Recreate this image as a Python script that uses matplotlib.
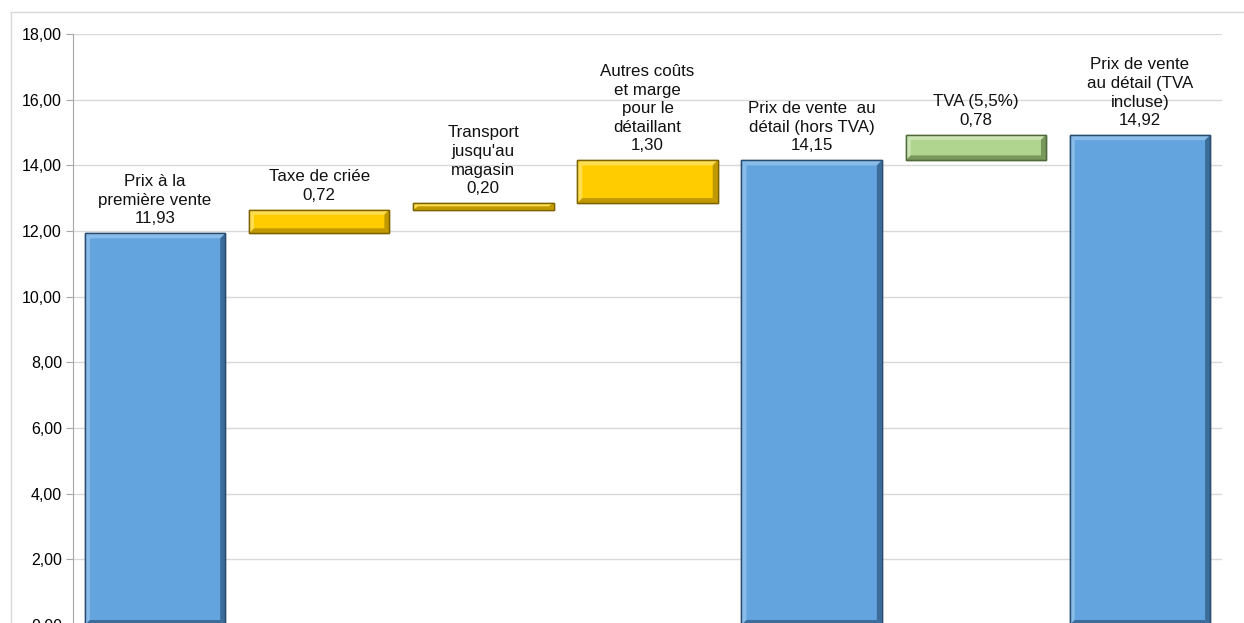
import matplotlib
matplotlib.use("Agg")
import matplotlib.pyplot as plt
from matplotlib.patches import Polygon
from matplotlib.transforms import IdentityTransform
from matplotlib.lines import Line2D

plt.rcParams['font.family'] = ['Liberation Sans', 'DejaVu Sans']

# Décomposition du prix (euros/kg)
etapes = ["Prix à la\npremière vente", "Taxe de criée", "Transport\njusqu'au\nmagasin",
          "Autres coûts\net marge\npour le\ndétaillant", "Prix de vente  au\ndétail (hors TVA)",
          "TVA (5,5%)", "Prix de vente\nau détail (TVA\nincluse)"]
valeurs = [11.93, 0.72, 0.20, 1.30, 14.15, 0.78, 14.92]
bases = [0, 11.93, 12.65, 12.85, 0, 14.15, 0]
types = ["total", "cout", "cout", "cout", "total", "tva", "total"]

palette = {
    "total": dict(fill="#63a4de", light="#92c1ec", dark="#34638f", edge="#294d70"),
    "cout": dict(fill="#ffcc00", light="#ffe260", dark="#b58f00", edge="#7d6300"),
    "tva": dict(fill="#b0d58e", light="#d2e8bd", dark="#6d8c52", edge="#4f6a3a"),
}

fig = plt.figure(figsize=(12.44, 6.23), dpi=100)
ax = fig.add_axes([73 / 1244, -2 / 623, (1222 - 73) / 1244, (625 - 34) / 623])

x = list(range(len(valeurs)))
bars = ax.bar(x, valeurs, bottom=bases, width=0.855,
              color=[palette[t]["fill"] for t in types],
              edgecolor=[palette[t]["edge"] for t in types], linewidth=1, zorder=3)

ax.set_xlim(-0.5, len(valeurs) - 0.5)
ax.set_ylim(0, 18)
ax.set_yticks([i * 2 for i in range(10)])
ax.set_yticklabels([f"{i * 2:.2f}".replace(".", ",") for i in range(10)], fontsize=11.5)
ax.set_xticks([])
ax.tick_params(axis="y", direction="out", length=5, color="#a6a6a6", pad=3)
ax.yaxis.grid(True, color="#d9d9d9", linewidth=1, zorder=0)
for s in ["top", "right", "bottom"]:
    ax.spines[s].set_visible(False)
ax.spines["left"].set_color("#a6a6a6")

# relief des barres (biseau)
b = 5
for bar, t in zip(bars, types):
    c = palette[t]
    x0, y0 = ax.transData.transform((bar.get_x(), bar.get_y()))
    x1, y1 = ax.transData.transform((bar.get_x() + bar.get_width(), bar.get_y() + bar.get_height()))
    bb = min(b, (y1 - y0) / 2)
    faces = [
        ([(x0, y1), (x1, y1), (x1 - b, y1 - bb), (x0 + b, y1 - bb)], c["light"]),
        ([(x0, y0), (x0, y1), (x0 + b, y1 - bb), (x0 + b, y0 + bb)], c["light"]),
        ([(x1, y0), (x1, y1), (x1 - b, y1 - bb), (x1 - b, y0 + bb)], c["dark"]),
        ([(x0, y0), (x1, y0), (x1 - b, y0 + bb), (x0 + b, y0 + bb)], c["dark"]),
    ]
    for pts, col in faces:
        ax.add_patch(Polygon(pts, closed=True, facecolor=col, edgecolor="none",
                             transform=IdentityTransform(), zorder=4, alpha=0.85))
    ax.add_patch(Polygon([(x0, y0), (x1, y0), (x1, y1), (x0, y1)], closed=True,
                         facecolor="none", edgecolor=c["edge"], linewidth=1,
                         transform=IdentityTransform(), zorder=5))

# étiquettes au-dessus des barres
for xi, nom, v, b0 in zip(x, etapes, valeurs, bases):
    ax.annotate(f"{nom}\n{v:.2f}".replace(".", ","), (xi, b0 + v), xytext=(0, 5),
                textcoords="offset points", ha="center", va="bottom",
                fontsize=12.2, linespacing=1.3, color="#111111", zorder=6)

# cadre extérieur
fig.add_artist(Line2D([11 / 1244, 1], [1 - 12 / 623] * 2, color="#d9d9d9", lw=1))
fig.add_artist(Line2D([11 / 1244] * 2, [0, 1 - 12 / 623], color="#d9d9d9", lw=1))

fig.savefig("out.png", dpi=100)
